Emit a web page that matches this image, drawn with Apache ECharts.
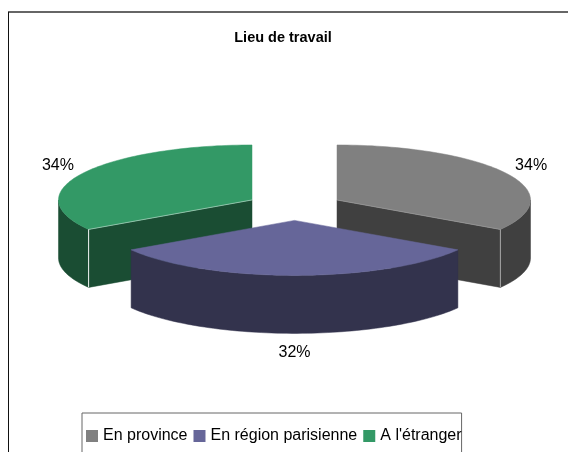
<!DOCTYPE html>
<html><head><meta charset="utf-8">
<style>html,body{margin:0;padding:0;background:#fff}#c{width:568px;height:452px}</style>
<script src="https://cdn.jsdelivr.net/npm/echarts@6/dist/echarts.min.js"></script>
</head><body><div id="c"></div>
<script>
const categories = ['En province', 'En région parisienne', "A l'étranger"];
const values = [34, 32, 34];
const topColors = ['#808080', '#666699', '#339966'];
const sideColors = ['#404040', '#33334D', '#1A4D33'];
const edgeColors = ['#A8A8A8', '#33334D', '#F4F8F6'];
const chartTitle = 'Lieu de travail';

const total = values.reduce((a, b) => a + b, 0);
const CX = 294.5, CY = 206.6, RX = 193.5, RY = 55, DEPTH = 58, EXPLODE = 48.5;
const FONT = '"Liberation Sans", Arial, sans-serif';
const rad = d => d * Math.PI / 180;
function arcPts(c, a0, a1, dy) {
  const n = Math.max(2, Math.ceil(Math.abs(a1 - a0) / 1.5)), p = [];
  for (let i = 0; i <= n; i++) {
    const a = rad(a0 + (a1 - a0) * i / n);
    p.push([c[0] + RX * Math.cos(a), c[1] + RY * Math.sin(a) + (dy || 0)]);
  }
  return p;
}
function makeRender(idx) {
  return function (params, api) {
    const before = values.slice(0, idx).reduce((a, b) => a + b, 0);
    const a0 = -90 + before / total * 360;
    const a1 = a0 + api.value(0) / total * 360;
    const mid = (a0 + a1) / 2, cm = Math.cos(rad(mid)), sm = Math.sin(rad(mid));
    const c = [CX + EXPLODE * cm, CY + EXPLODE * RY / RX * sm];
    const top = topColors[idx], side = sideColors[idx], edge = edgeColors[idx];
    const kids = [];
    const poly = (points, fill) => kids.push({type: 'polygon', shape: {points}, style: {fill, stroke: fill, lineWidth: 0.5}});
    const line = (p, q, o) => kids.push({type: 'line', shape: {x1: p[0], y1: p[1], x2: q[0], y2: q[1]}, style: {stroke: edge, lineWidth: 1, opacity: o}});
    const rim = a => [c[0] + RX * Math.cos(rad(a)), c[1] + RY * Math.sin(rad(a))];
    const down = p => [p[0], p[1] + DEPTH];
    const faces = [];
    if (Math.cos(rad(a1)) > 1e-9) faces.push(a1);
    if (Math.cos(rad(a0)) < -1e-9) faces.push(a0);
    faces.forEach(a => { const r = rim(a); poly([c, r, down(r), down(c)], side); });
    const w0 = Math.max(a0, 0), w1 = Math.min(a1, 180);
    if (w1 > w0) poly(arcPts(c, w0, w1, 0).concat(arcPts(c, w1, w0, DEPTH)), side);
    poly([c].concat(arcPts(c, a0, a1, 0)), top);
    faces.forEach(a => { const r = rim(a); line(c, r, 0.45); line(r, down(r), 1); });
    const pct = Math.round(api.value(0) / total * 100) + '%';
    kids.push({type: 'text', style: {
      x: c[0] + (RX + 28) * cm,
      y: c[1] + (RY + 15.5 + (sm > 0.9 ? DEPTH + 3.5 : 0)) * sm,
      text: pct, fill: '#000', font: '16px ' + FONT, align: 'center', verticalAlign: 'middle'
    }});
    return {type: 'group', children: kids};
  };
}
const series = categories.map((name, i) => ({
  type: 'custom', name, coordinateSystem: 'none', silent: true,
  itemStyle: {color: topColors[i]}, data: [[values[i]]], renderItem: makeRender(i), z: i === 1 ? 3 : 2
}));
const chart = echarts.init(document.getElementById('c'), null, {renderer: 'canvas'});
chart.setOption({
  animation: false, backgroundColor: '#fff',
  title: {text: chartTitle, left: 283, top: 30, padding: 0, textAlign: 'center',
    textStyle: {fontFamily: FONT, fontSize: 14.5, fontWeight: 'bold', color: '#000'}},
  legend: {data: categories, left: 82, top: 413, orient: 'horizontal', selectedMode: false,
    icon: 'rect', itemWidth: 12, itemHeight: 12, itemGap: 6, padding: [15, 0, 40, 4],
    width: 378,
    borderColor: '#666', borderWidth: 1,
    textStyle: {fontFamily: FONT, fontSize: 16, color: '#000'}},
  graphic: [
    {type: 'line', silent: true, shape: {x1: 0 + 8, y1: 12, x2: 568, y2: 12}, style: {stroke: '#333', lineWidth: 1.6}},
    {type: 'line', silent: true, shape: {x1: 8.5, y1: 12, x2: 8.5, y2: 452}, style: {stroke: '#111', lineWidth: 1}}
  ],
  series
});
</script></body></html>
